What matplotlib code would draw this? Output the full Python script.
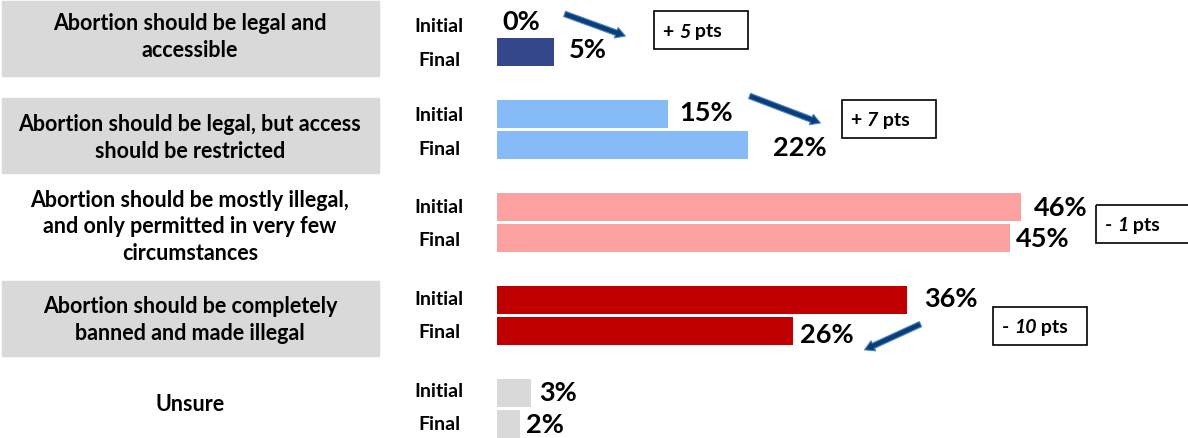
import matplotlib.pyplot as plt
from matplotlib.patches import Rectangle, FancyArrowPatch

plt.rcParams['font.family'] = ['Lato', 'DejaVu Sans']

categories = [
    "Abortion should be legal and\naccessible",
    "Abortion should be legal, but access\nshould be restricted",
    "Abortion should be mostly illegal,\nand only permitted in very few\ncircumstances",
    "Abortion should be completely\nbanned and made illegal",
    "Unsure",
]
initial = [0, 15, 46, 36, 3]
final = [5, 22, 45, 26, 2]
change_sign = ["+", "+", "-", "-"]
change_num = ["5", "7", "1", "10"]
colors = ["#34478b", "#87bbf8", "#fca0a0", "#c00000", "#d9d9d9"]

# layout (pixels)
W, H = 1188, 439
X0 = 497
PX = 11.4


def px(x):
    return (x - X0) / PX


fig = plt.figure(figsize=(W / 100, H / 100), dpi=100)
ax = fig.add_axes([0, 0, 1, 1])
ax.set_xlim(px(0), px(W))
ax.set_ylim(H, 0)
ax.axis("off")

final_y = [53 + 93 * i for i in range(len(categories))]
init_y = [y - 31 for y in final_y]

ax.barh(init_y, initial, height=28, color=colors, left=0)
ax.barh(final_y, final, height=28, color=colors, left=0)

# grey category boxes
box_top = [2, 99, None, 282, None]
label_y = [37, 138, 227, 320, 405]
init_lab_dy = [5, 1, 0, -1, -2]
final_lab_dy = [7, 4, 2, 1, 0]
for i, cat in enumerate(categories):
    if box_top[i] is not None:
        ax.add_patch(Rectangle((px(2), box_top[i]), (377) / PX, 75,
                               color="#d9d9d9", zorder=0))
    ax.text(px(190), label_y[i], cat, ha="center", va="center",
            fontsize=15.5, fontweight="bold", linespacing=1.32)
    ax.text(px(439), init_y[i] + init_lab_dy[i], "Initial", ha="center",
            va="center", fontsize=14, fontweight="bold")
    ax.text(px(439), final_y[i] + final_lab_dy[i], "Final", ha="center",
            va="center", fontsize=14, fontweight="bold")

# value labels (hand-placed offsets in px)
init_off = [5, 11, 13, 17, 8]
final_off = [15, 25, 6, 7, 6]
init_dy = [0, -2, 0, -2, -1]
final_dy = [-3, 2, 0, 3, 0]
for i in range(len(categories)):
    ax.text(initial[i] + init_off[i] / PX, init_y[i] + init_dy[i],
            f"{initial[i]}%", ha="left", va="center", fontsize=19.5,
            fontweight="bold")
    ax.text(final[i] + final_off[i] / PX, final_y[i] + final_dy[i],
            f"{final[i]}%", ha="left", va="center", fontsize=19.5,
            fontweight="bold")

# change boxes
box_xy = [(654, 12), (842, 101), (1096, 206), (993, 308)]
box_w = [94, 94, 110, 94]
for (bx, by), w, s, n in zip(box_xy, box_w, change_sign, change_num):
    ax.add_patch(Rectangle((px(bx), by), w / PX, 38, fill=False,
                           edgecolor="black", linewidth=1.2, clip_on=False))
    t1 = ax.text(px(bx + 9), by + 20, s + " ", ha="left", va="center",
                 fontsize=14, fontweight="bold")
    t2 = ax.annotate(n, xy=(1, 0), xycoords=t1, ha="left", va="bottom",
                     fontsize=14, fontweight="bold", fontstyle="italic")
    ax.annotate(" pts", xy=(1, 0), xycoords=t2, ha="left", va="bottom",
                fontsize=14, fontweight="bold")

# arrows
arrows = [((562, 14), (628, 38)), ((747, 96), (823, 125)),
          ((923, 324), (862, 352))]
for (xa, ya), (xb, yb) in arrows:
    arr = FancyArrowPatch((px(xa), ya), (px(xb), yb),
                          arrowstyle="simple,head_length=7,head_width=8,tail_width=4",
                          facecolor="#0b3d78", edgecolor="#4a86c5",
                          linewidth=0.8, mutation_scale=1)
    ax.add_patch(arr)

fig.savefig("out.png", dpi=100)
